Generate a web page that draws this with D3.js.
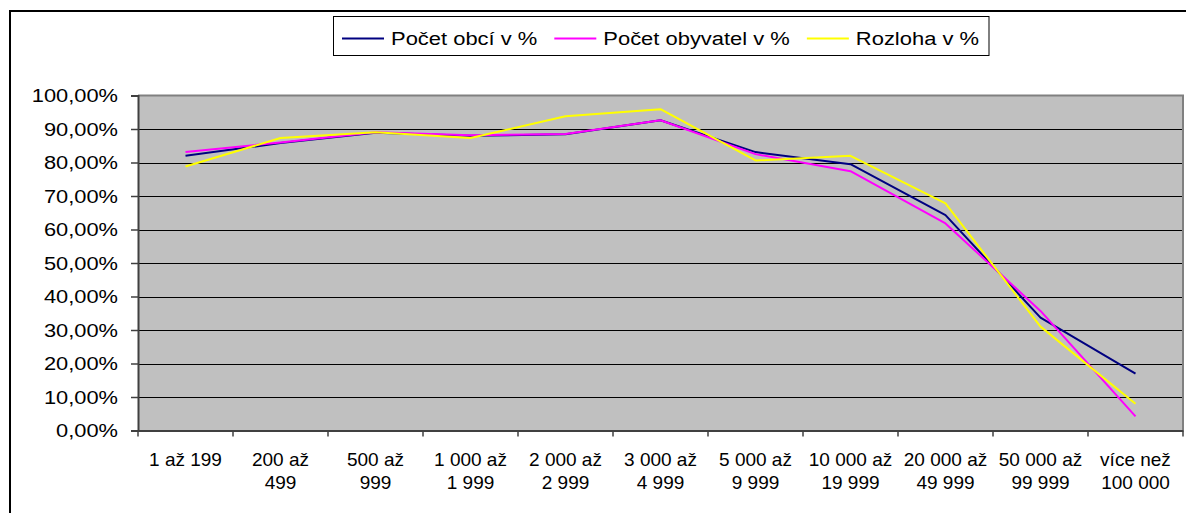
<!DOCTYPE html>
<html>
<head>
<meta charset="utf-8">
<script src="https://cdn.jsdelivr.net/npm/d3@7"></script>
<style>
  html, body { margin: 0; padding: 0; background: #fff; }
  svg { display: block; font-family: "Liberation Sans", Arial, sans-serif; }
</style>
</head>
<body>
<svg id="chart" width="1186" height="513"></svg>
<script>
// ---- data ----
const categories = ["1 až 199", "200 až\n499", "500 až\n999", "1 000 až\n1 999", "2 000 až\n2 999",
  "3 000 až\n4 999", "5 000 až\n9 999", "10 000 až\n19 999", "20 000 až\n49 999",
  "50 000 až\n99 999", "více než\n100 000"];
const seriesNames = ["Počet obcí v %", "Počet obyvatel v %", "Rozloha v %"];
const pocetObci = [82.0, 85.8, 88.9, 88.0, 88.4, 92.6, 83.1, 79.5, 64.3, 33.7, 17.0];
const pocetObyvatel = [83.1, 86.0, 89.0, 88.1, 88.5, 92.6, 82.5, 77.4, 61.8, 35.7, 4.2];
const rozloha = [78.8, 87.3, 89.0, 87.3, 93.8, 95.9, 80.6, 82.0, 67.8, 31.0, 8.0];
const yTicks = [0, 10, 20, 30, 40, 50, 60, 70, 80, 90, 100];
const colors = ["#000080", "#FF00FF", "#FFFF00"];

const series = [pocetObci, pocetObyvatel, rozloha];

// ---- layout ----
const svg = d3.select("#chart");
const plot = { left: 138, right: 1183, top: 95.5, bottom: 430.5 };

// outer chart border (cropped at right and bottom)
svg.append("rect").attr("x", 10).attr("y", 11).attr("width", 1300).attr("height", 700)
  .attr("fill", "#fff").attr("stroke", "#000").attr("stroke-width", 2);

const x = d3.scaleBand().domain(categories).range([plot.left, plot.right]).padding(0);
const y = d3.scaleLinear().domain([0, 100]).range([plot.bottom, plot.top]);

// plot background
svg.append("rect").attr("x", plot.left).attr("y", plot.top)
  .attr("width", plot.right - plot.left).attr("height", plot.bottom - plot.top)
  .attr("fill", "#C0C0C0");

// gridlines
svg.append("g").selectAll("line").data(yTicks.filter(t => t > 0 && t < 100)).join("line")
  .attr("x1", plot.left).attr("x2", plot.right)
  .attr("y1", d => Math.round(y(d)) + 0.5).attr("y2", d => Math.round(y(d)) + 0.5)
  .attr("stroke", "#000").attr("stroke-width", 1);

// top & right border of plot
svg.append("path")
  .attr("d", `M${plot.left},${plot.top} H${plot.right} V${plot.bottom}`)
  .attr("fill", "none").attr("stroke", "#808080").attr("stroke-width", 2);

// y axis
const fmt = v => v.toFixed(2).replace(".", ",") + "%";
const yAxis = d3.axisLeft(y).tickValues(yTicks).tickSize(7).tickPadding(13).tickFormat(fmt);
const gy = svg.append("g").attr("transform", `translate(${plot.left},0)`).call(yAxis);
gy.select(".domain").attr("stroke", "#404040").attr("stroke-width", 2);
gy.selectAll(".tick line").attr("stroke", "#404040").attr("stroke-width", 1.5);
gy.selectAll(".tick text")
  .attr("font-size", 19).attr("fill", "#000").attr("font-family", "Liberation Sans, Arial")
  .each(function () {
    const t = d3.select(this);
    const xx = +t.attr("x");
    t.attr("x", null).attr("transform", `translate(${xx},0) scale(1.15,1)`);
  });

// x axis
const xAxis = d3.axisBottom(x).tickSize(0).tickFormat("");
const gx = svg.append("g").attr("transform", `translate(0,${plot.bottom})`).call(xAxis);
gx.select(".domain").attr("stroke", "#404040").attr("stroke-width", 2);
// tick marks at band boundaries
const bounds = categories.map(c => x(c)).concat([x(categories[categories.length - 1]) + x.bandwidth()]);
gx.append("g").selectAll("line").data(bounds).join("line")
  .attr("x1", d => d).attr("x2", d => d).attr("y1", 0).attr("y2", 6)
  .attr("stroke", "#404040").attr("stroke-width", 1.5);
// labels
const labels = gx.append("g").selectAll("text").data(categories).join("text")
  .attr("x", d => x(d) + x.bandwidth() / 2)
  .attr("text-anchor", "middle").attr("font-size", 19).attr("fill", "#000");
labels.each(function (d) {
  const t = d3.select(this);
  d.split("\n").forEach((line, i) => {
    t.append("tspan").attr("x", x(d) + x.bandwidth() / 2).attr("y", 35 + i * 23.5).text(line);
  });
});

// lines
const lineGen = d3.line().x((d, i) => x(categories[i]) + x.bandwidth() / 2).y(d => y(d));
svg.append("g").selectAll("path").data(series).join("path")
  .attr("d", d => lineGen(d))
  .attr("fill", "none")
  .attr("stroke", (d, i) => colors[i])
  .attr("stroke-width", 2)
  .attr("stroke-linejoin", "round");

// legend
const legend = svg.append("g");
const legBox = legend.append("rect").attr("fill", "#fff").attr("stroke", "#000").attr("stroke-width", 1);
let cx = 342;
const legY = 38.5;
const sx = 1.155;
seriesNames.forEach((name, i) => {
  legend.append("line").attr("x1", cx).attr("x2", cx + 42).attr("y1", legY).attr("y2", legY)
    .attr("stroke", colors[i]).attr("stroke-width", 2);
  const tx = cx + 49;
  const t = legend.append("text").attr("font-size", 19).attr("fill", "#000")
    .attr("transform", `translate(${tx},${legY + 6.5}) scale(${sx},1)`).text(name);
  const w = t.node().getComputedTextLength() * sx;
  cx = tx + w + 17;
});
legBox.attr("x", 333.5).attr("y", 16.5).attr("width", cx - 17 + 10 - 333.5).attr("height", 39);
</script>
</body>
</html>
